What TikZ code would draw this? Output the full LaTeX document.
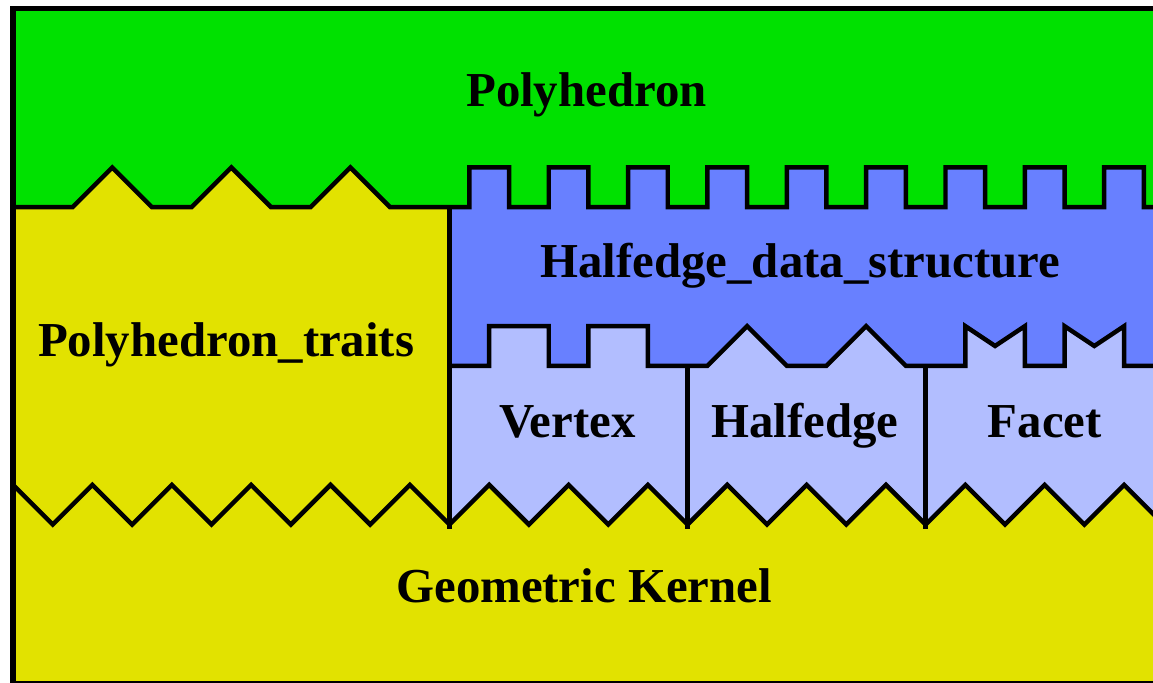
\documentclass[tikz,border=0pt]{standalone}
\usepackage{fontspec}
\setmainfont{Liberation Serif}
\definecolor{cgreen}{RGB}{0,225,0}
\definecolor{cyellow}{RGB}{226,226,0}
\definecolor{cblue}{RGB}{104,128,255}
\definecolor{clight}{RGB}{178,190,255}
\begin{document}
\begin{tikzpicture}[
  lbl/.style={anchor=base, inner sep=0pt, font=\fontsize{35}{41}\selectfont\bfseries},
  edge/.style={draw=black, line width=3.2pt, line join=miter},
  frame/.style={draw=black, line width=3.8pt}
]
\useasboundingbox (-0.33,-16.97) rectangle (28.73,0.22);
\begin{scope}
\clip (-0.33,-16.97) rectangle (28.73,0.22);
% base yellow (traits)
\fill[cyellow] (0,0) rectangle (29,-17);
% blue HDS
\fill[cblue] (11,-3.9) rectangle (29,-13.2);
% light blue (vertex/halfedge/facet)
\fill[clight] (11,-9) -- (12,-9) -- (12,-8) -- (13.5,-8) -- (13.5,-9) -- (14.5,-9) -- (14.5,-8) -- (16,-8) -- (16,-9) -- (17.5,-9) -- (18.5,-8) -- (19.5,-9) -- (20.5,-9) -- (21.5,-8) -- (22.5,-9) -- (24,-9) -- (24,-8) -- (24.75,-8.5) -- (25.5,-8) -- (25.5,-9) -- (26.5,-9) -- (26.5,-8) -- (27.25,-8.5) -- (28,-8) -- (28,-9) -- (29,-9) -- (29,-13.2) -- (11,-13.2) -- cycle;
% green polyhedron
\fill[cgreen] (0,0) -- (0,-5) -- (1.5,-5) -- (2.5,-4) -- (3.5,-5) -- (4.5,-5) -- (5.5,-4) -- (6.5,-5) -- (7.5,-5) -- (8.5,-4) -- (9.5,-5) -- (11.5,-5) -- (11.5,-4) -- (12.5,-4) -- (12.5,-5) -- (13.5,-5) -- (13.5,-4) -- (14.5,-4) -- (14.5,-5) -- (15.5,-5) -- (15.5,-4) -- (16.5,-4) -- (16.5,-5) -- (17.5,-5) -- (17.5,-4) -- (18.5,-4) -- (18.5,-5) -- (19.5,-5) -- (19.5,-4) -- (20.5,-4) -- (20.5,-5) -- (21.5,-5) -- (21.5,-4) -- (22.5,-4) -- (22.5,-5) -- (23.5,-5) -- (23.5,-4) -- (24.5,-4) -- (24.5,-5) -- (25.5,-5) -- (25.5,-4) -- (26.5,-4) -- (26.5,-5) -- (27.5,-5) -- (27.5,-4) -- (28.5,-4) -- (28.5,-5) -- (29,-5) -- (29,0) -- cycle;
% yellow kernel
\fill[cyellow] (0,-12) -- (1,-13) -- (2,-12) -- (3,-13) -- (4,-12) -- (5,-13) -- (6,-12) -- (7,-13) -- (8,-12) -- (9,-13) -- (10,-12) -- (11,-13) -- (12,-12) -- (13,-13) -- (14,-12) -- (15,-13) -- (16,-12) -- (17,-13) -- (18,-12) -- (19,-13) -- (20,-12) -- (21,-13) -- (22,-12) -- (23,-13) -- (24,-12) -- (25,-13) -- (26,-12) -- (27,-13) -- (28,-12) -- (29,-13) -- (29,-17) -- (0,-17) -- cycle;
% boundaries
\draw[edge] (0,-5) -- (1.5,-5) -- (2.5,-4) -- (3.5,-5) -- (4.5,-5) -- (5.5,-4) -- (6.5,-5) -- (7.5,-5) -- (8.5,-4) -- (9.5,-5) -- (11.5,-5) -- (11.5,-4) -- (12.5,-4) -- (12.5,-5) -- (13.5,-5) -- (13.5,-4) -- (14.5,-4) -- (14.5,-5) -- (15.5,-5) -- (15.5,-4) -- (16.5,-4) -- (16.5,-5) -- (17.5,-5) -- (17.5,-4) -- (18.5,-4) -- (18.5,-5) -- (19.5,-5) -- (19.5,-4) -- (20.5,-4) -- (20.5,-5) -- (21.5,-5) -- (21.5,-4) -- (22.5,-4) -- (22.5,-5) -- (23.5,-5) -- (23.5,-4) -- (24.5,-4) -- (24.5,-5) -- (25.5,-5) -- (25.5,-4) -- (26.5,-4) -- (26.5,-5) -- (27.5,-5) -- (27.5,-4) -- (28.5,-4) -- (28.5,-5) -- (29.5,-5);
\draw[edge] (11,-9) -- (12,-9) -- (12,-8) -- (13.5,-8) -- (13.5,-9) -- (14.5,-9) -- (14.5,-8) -- (16,-8) -- (16,-9) -- (17.5,-9) -- (18.5,-8) -- (19.5,-9) -- (20.5,-9) -- (21.5,-8) -- (22.5,-9) -- (24,-9) -- (24,-8) -- (24.75,-8.5) -- (25.5,-8) -- (25.5,-9) -- (26.5,-9) -- (26.5,-8) -- (27.25,-8.5) -- (28,-8) -- (28,-9) -- (29.5,-9);
\draw[edge] (0,-12) -- (1,-13) -- (2,-12) -- (3,-13) -- (4,-12) -- (5,-13) -- (6,-12) -- (7,-13) -- (8,-12) -- (9,-13) -- (10,-12) -- (11,-13) -- (12,-12) -- (13,-13) -- (14,-12) -- (15,-13) -- (16,-12) -- (17,-13) -- (18,-12) -- (19,-13) -- (20,-12) -- (21,-13) -- (22,-12) -- (23,-13) -- (24,-12) -- (25,-13) -- (26,-12) -- (27,-13) -- (28,-12) -- (29,-13) -- (30,-12);
% dividers
\draw[edge] (11,-5) -- (11,-13.1);
\draw[edge] (17,-9) -- (17,-13.1);
\draw[edge] (23,-9) -- (23,-13.1);
% frame
\draw[frame] (0,0) rectangle (29,-17);
\end{scope}
% labels
\node[lbl] (poly) at (14.45,-2.47) {Polyhedron};
\node[lbl] (hds) at (19.84,-6.78) {Halfedge\_data\_structure};
\node[lbl] (traits) at (5.37,-8.77) {Polyhedron\_traits};
\node[lbl] (vertex) at (13.97,-10.81) {Vertex};
\node[lbl] (halfedge) at (19.96,-10.81) {Halfedge};
\node[lbl] (facet) at (26.0,-10.81) {Facet};
\node[lbl] (kernel) at (14.39,-14.97) {Geometric Kernel};
\end{tikzpicture}
\end{document}
